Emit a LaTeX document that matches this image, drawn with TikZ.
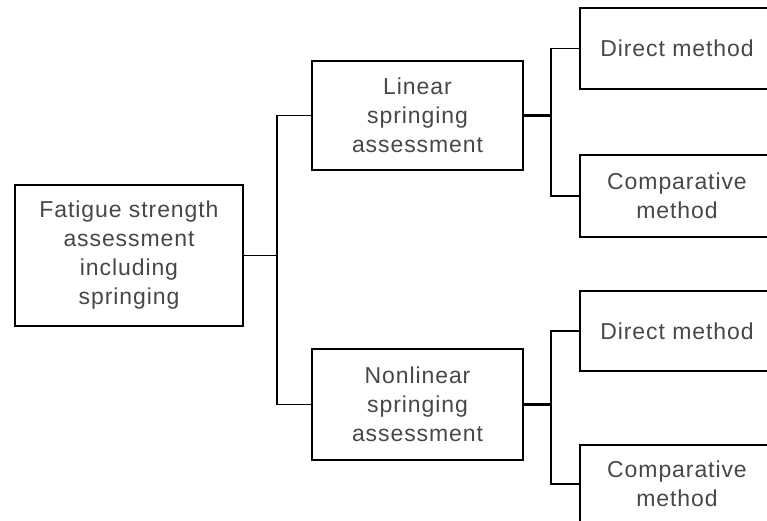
\documentclass[tikz,border=0pt]{standalone}
\usepackage{fontspec}
\setmainfont[LetterSpace=4]{Liberation Sans}
\begin{document}
\begin{tikzpicture}[x=1pt,y=-1pt,
  box/.style={draw=black, line width=1.9pt, rectangle, align=center,
    inner sep=0pt, text=black!72,
    font=\fontsize{23}{29}\selectfont},
  link/.style={draw=black, line width=1.9pt},
  heavylink/.style={draw=black, line width=2.8pt}]
  \useasboundingbox (0,0) rectangle (767,521);
  \clip (0,0) rectangle (767,521);

  % tree boxes
  \node[box, minimum width=228pt, minimum height=141pt] (root) at (129,255.5)
    {Fatigue strength\\assessment\\including\\springing};
  \node[box, minimum width=211pt, minimum height=109pt] (lin) at (417.5,115.5)
    {Linear\\springing\\assessment};
  \node[box, minimum width=211pt, minimum height=111pt] (non) at (417.5,404.5)
    {Nonlinear\\springing\\assessment};
  \node[box, minimum width=194pt, minimum height=81pt] (dir1) at (677,48.5)
    {Direct method};
  \node[box, minimum width=194pt, minimum height=82pt] (cmp1) at (677,196)
    {Comparative\\method};
  \node[box, minimum width=194pt, minimum height=80pt] (dir2) at (677,331)
    {Direct method};
  \node[box, minimum width=194pt, minimum height=78pt] (cmp2) at (677,484)
    {Comparative\\method};

  % branch points
  \coordinate (j1) at (277,255.5);
  \coordinate (j2) at (551,115.5);
  \coordinate (j3) at (551,404.5);

  % connectors
  \draw[link] (root.east) -- (j1);
  \draw[link] (lin.west) -| (j1) |- (non.west);
  \draw[heavylink] (lin.east) -- (j2);
  \draw[link] (dir1.west) -| (j2) |- (cmp1.west);
  \draw[heavylink] (non.east) -- (j3);
  \draw[link] (dir2.west) -| (j3) |- (cmp2.west);
\end{tikzpicture}
\end{document}
